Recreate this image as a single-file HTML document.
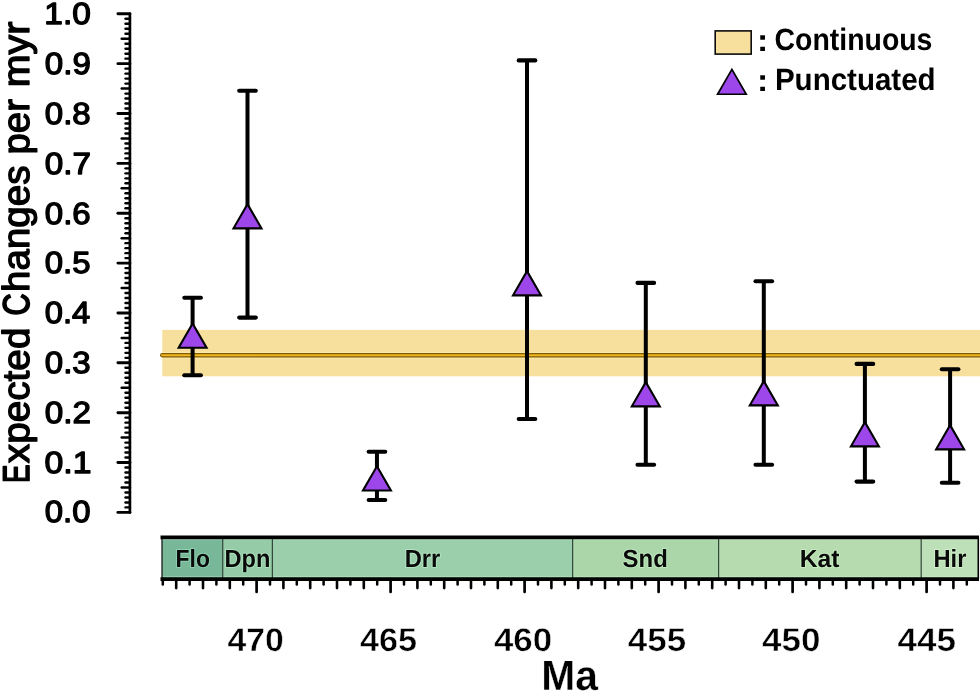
<!DOCTYPE html>
<html lang="en">
<head>
<meta charset="utf-8">
<title>Expected Changes per myr</title>
<style>
html,body{margin:0;padding:0;background:#fff;}
body{width:980px;height:692px;overflow:hidden;font-family:"Liberation Sans", sans-serif;}
svg{display:block;will-change:transform;}
text{text-rendering:geometricPrecision;}
</style>
</head>
<body>
<svg width="980" height="692" viewBox="0 0 980 692">
<rect width="980" height="692" fill="#fff"/>
<rect x="162.3" y="329.9" width="817.7" height="46.4" fill="#f7df9e"/>
<line x1="162" y1="352.35" x2="984" y2="352.35" stroke="#fff3b8" stroke-opacity="0.6" stroke-width="1"/>
<line x1="162" y1="358.15" x2="984" y2="358.15" stroke="#fff3b8" stroke-opacity="0.6" stroke-width="1"/>
<line x1="162.2" y1="355.25" x2="984" y2="355.25" stroke="#7d5c0a" stroke-width="4.3" stroke-linecap="round"/>
<line x1="162.2" y1="355.25" x2="984" y2="355.25" stroke="#f2b51d" stroke-width="2.1" stroke-linecap="round"/>
<g stroke="#000" stroke-linecap="round">
<line x1="129.9" y1="13.8" x2="129.9" y2="512.4" stroke-width="2.7"/>
<line x1="117.9" y1="512.4" x2="129.9" y2="512.4" stroke-width="2.9"/>
<line x1="125.5" y1="507.41" x2="129.9" y2="507.41" stroke-width="2.4"/>
<line x1="125.5" y1="502.43" x2="129.9" y2="502.43" stroke-width="2.4"/>
<line x1="125.5" y1="497.44" x2="129.9" y2="497.44" stroke-width="2.4"/>
<line x1="125.5" y1="492.46" x2="129.9" y2="492.46" stroke-width="2.4"/>
<line x1="121.7" y1="487.47" x2="129.9" y2="487.47" stroke-width="2.5"/>
<line x1="125.5" y1="482.48" x2="129.9" y2="482.48" stroke-width="2.4"/>
<line x1="125.5" y1="477.5" x2="129.9" y2="477.5" stroke-width="2.4"/>
<line x1="125.5" y1="472.51" x2="129.9" y2="472.51" stroke-width="2.4"/>
<line x1="125.5" y1="467.53" x2="129.9" y2="467.53" stroke-width="2.4"/>
<line x1="117.9" y1="462.54" x2="129.9" y2="462.54" stroke-width="2.9"/>
<line x1="125.5" y1="457.55" x2="129.9" y2="457.55" stroke-width="2.4"/>
<line x1="125.5" y1="452.57" x2="129.9" y2="452.57" stroke-width="2.4"/>
<line x1="125.5" y1="447.58" x2="129.9" y2="447.58" stroke-width="2.4"/>
<line x1="125.5" y1="442.6" x2="129.9" y2="442.6" stroke-width="2.4"/>
<line x1="121.7" y1="437.61" x2="129.9" y2="437.61" stroke-width="2.5"/>
<line x1="125.5" y1="432.62" x2="129.9" y2="432.62" stroke-width="2.4"/>
<line x1="125.5" y1="427.64" x2="129.9" y2="427.64" stroke-width="2.4"/>
<line x1="125.5" y1="422.65" x2="129.9" y2="422.65" stroke-width="2.4"/>
<line x1="125.5" y1="417.67" x2="129.9" y2="417.67" stroke-width="2.4"/>
<line x1="117.9" y1="412.68" x2="129.9" y2="412.68" stroke-width="2.9"/>
<line x1="125.5" y1="407.69" x2="129.9" y2="407.69" stroke-width="2.4"/>
<line x1="125.5" y1="402.71" x2="129.9" y2="402.71" stroke-width="2.4"/>
<line x1="125.5" y1="397.72" x2="129.9" y2="397.72" stroke-width="2.4"/>
<line x1="125.5" y1="392.74" x2="129.9" y2="392.74" stroke-width="2.4"/>
<line x1="121.7" y1="387.75" x2="129.9" y2="387.75" stroke-width="2.5"/>
<line x1="125.5" y1="382.76" x2="129.9" y2="382.76" stroke-width="2.4"/>
<line x1="125.5" y1="377.78" x2="129.9" y2="377.78" stroke-width="2.4"/>
<line x1="125.5" y1="372.79" x2="129.9" y2="372.79" stroke-width="2.4"/>
<line x1="125.5" y1="367.81" x2="129.9" y2="367.81" stroke-width="2.4"/>
<line x1="117.9" y1="362.82" x2="129.9" y2="362.82" stroke-width="2.9"/>
<line x1="125.5" y1="357.83" x2="129.9" y2="357.83" stroke-width="2.4"/>
<line x1="125.5" y1="352.85" x2="129.9" y2="352.85" stroke-width="2.4"/>
<line x1="125.5" y1="347.86" x2="129.9" y2="347.86" stroke-width="2.4"/>
<line x1="125.5" y1="342.88" x2="129.9" y2="342.88" stroke-width="2.4"/>
<line x1="121.7" y1="337.89" x2="129.9" y2="337.89" stroke-width="2.5"/>
<line x1="125.5" y1="332.9" x2="129.9" y2="332.9" stroke-width="2.4"/>
<line x1="125.5" y1="327.92" x2="129.9" y2="327.92" stroke-width="2.4"/>
<line x1="125.5" y1="322.93" x2="129.9" y2="322.93" stroke-width="2.4"/>
<line x1="125.5" y1="317.95" x2="129.9" y2="317.95" stroke-width="2.4"/>
<line x1="117.9" y1="312.96" x2="129.9" y2="312.96" stroke-width="2.9"/>
<line x1="125.5" y1="307.97" x2="129.9" y2="307.97" stroke-width="2.4"/>
<line x1="125.5" y1="302.99" x2="129.9" y2="302.99" stroke-width="2.4"/>
<line x1="125.5" y1="298" x2="129.9" y2="298" stroke-width="2.4"/>
<line x1="125.5" y1="293.02" x2="129.9" y2="293.02" stroke-width="2.4"/>
<line x1="121.7" y1="288.03" x2="129.9" y2="288.03" stroke-width="2.5"/>
<line x1="125.5" y1="283.04" x2="129.9" y2="283.04" stroke-width="2.4"/>
<line x1="125.5" y1="278.06" x2="129.9" y2="278.06" stroke-width="2.4"/>
<line x1="125.5" y1="273.07" x2="129.9" y2="273.07" stroke-width="2.4"/>
<line x1="125.5" y1="268.09" x2="129.9" y2="268.09" stroke-width="2.4"/>
<line x1="117.9" y1="263.1" x2="129.9" y2="263.1" stroke-width="2.9"/>
<line x1="125.5" y1="258.11" x2="129.9" y2="258.11" stroke-width="2.4"/>
<line x1="125.5" y1="253.13" x2="129.9" y2="253.13" stroke-width="2.4"/>
<line x1="125.5" y1="248.14" x2="129.9" y2="248.14" stroke-width="2.4"/>
<line x1="125.5" y1="243.16" x2="129.9" y2="243.16" stroke-width="2.4"/>
<line x1="121.7" y1="238.17" x2="129.9" y2="238.17" stroke-width="2.5"/>
<line x1="125.5" y1="233.18" x2="129.9" y2="233.18" stroke-width="2.4"/>
<line x1="125.5" y1="228.2" x2="129.9" y2="228.2" stroke-width="2.4"/>
<line x1="125.5" y1="223.21" x2="129.9" y2="223.21" stroke-width="2.4"/>
<line x1="125.5" y1="218.23" x2="129.9" y2="218.23" stroke-width="2.4"/>
<line x1="117.9" y1="213.24" x2="129.9" y2="213.24" stroke-width="2.9"/>
<line x1="125.5" y1="208.25" x2="129.9" y2="208.25" stroke-width="2.4"/>
<line x1="125.5" y1="203.27" x2="129.9" y2="203.27" stroke-width="2.4"/>
<line x1="125.5" y1="198.28" x2="129.9" y2="198.28" stroke-width="2.4"/>
<line x1="125.5" y1="193.3" x2="129.9" y2="193.3" stroke-width="2.4"/>
<line x1="121.7" y1="188.31" x2="129.9" y2="188.31" stroke-width="2.5"/>
<line x1="125.5" y1="183.32" x2="129.9" y2="183.32" stroke-width="2.4"/>
<line x1="125.5" y1="178.34" x2="129.9" y2="178.34" stroke-width="2.4"/>
<line x1="125.5" y1="173.35" x2="129.9" y2="173.35" stroke-width="2.4"/>
<line x1="125.5" y1="168.37" x2="129.9" y2="168.37" stroke-width="2.4"/>
<line x1="117.9" y1="163.38" x2="129.9" y2="163.38" stroke-width="2.9"/>
<line x1="125.5" y1="158.39" x2="129.9" y2="158.39" stroke-width="2.4"/>
<line x1="125.5" y1="153.41" x2="129.9" y2="153.41" stroke-width="2.4"/>
<line x1="125.5" y1="148.42" x2="129.9" y2="148.42" stroke-width="2.4"/>
<line x1="125.5" y1="143.44" x2="129.9" y2="143.44" stroke-width="2.4"/>
<line x1="121.7" y1="138.45" x2="129.9" y2="138.45" stroke-width="2.5"/>
<line x1="125.5" y1="133.46" x2="129.9" y2="133.46" stroke-width="2.4"/>
<line x1="125.5" y1="128.48" x2="129.9" y2="128.48" stroke-width="2.4"/>
<line x1="125.5" y1="123.49" x2="129.9" y2="123.49" stroke-width="2.4"/>
<line x1="125.5" y1="118.51" x2="129.9" y2="118.51" stroke-width="2.4"/>
<line x1="117.9" y1="113.52" x2="129.9" y2="113.52" stroke-width="2.9"/>
<line x1="125.5" y1="108.53" x2="129.9" y2="108.53" stroke-width="2.4"/>
<line x1="125.5" y1="103.55" x2="129.9" y2="103.55" stroke-width="2.4"/>
<line x1="125.5" y1="98.56" x2="129.9" y2="98.56" stroke-width="2.4"/>
<line x1="125.5" y1="93.58" x2="129.9" y2="93.58" stroke-width="2.4"/>
<line x1="121.7" y1="88.59" x2="129.9" y2="88.59" stroke-width="2.5"/>
<line x1="125.5" y1="83.6" x2="129.9" y2="83.6" stroke-width="2.4"/>
<line x1="125.5" y1="78.62" x2="129.9" y2="78.62" stroke-width="2.4"/>
<line x1="125.5" y1="73.63" x2="129.9" y2="73.63" stroke-width="2.4"/>
<line x1="125.5" y1="68.65" x2="129.9" y2="68.65" stroke-width="2.4"/>
<line x1="117.9" y1="63.66" x2="129.9" y2="63.66" stroke-width="2.9"/>
<line x1="125.5" y1="58.67" x2="129.9" y2="58.67" stroke-width="2.4"/>
<line x1="125.5" y1="53.69" x2="129.9" y2="53.69" stroke-width="2.4"/>
<line x1="125.5" y1="48.7" x2="129.9" y2="48.7" stroke-width="2.4"/>
<line x1="125.5" y1="43.72" x2="129.9" y2="43.72" stroke-width="2.4"/>
<line x1="121.7" y1="38.73" x2="129.9" y2="38.73" stroke-width="2.5"/>
<line x1="125.5" y1="33.74" x2="129.9" y2="33.74" stroke-width="2.4"/>
<line x1="125.5" y1="28.76" x2="129.9" y2="28.76" stroke-width="2.4"/>
<line x1="125.5" y1="23.77" x2="129.9" y2="23.77" stroke-width="2.4"/>
<line x1="125.5" y1="18.79" x2="129.9" y2="18.79" stroke-width="2.4"/>
<line x1="117.9" y1="13.8" x2="129.9" y2="13.8" stroke-width="2.9"/>
</g>
<text transform="translate(44.78,522.35) scale(1.0775,1)" font-family='"Liberation Sans", sans-serif' font-weight="normal" font-size="30.55" fill="#000" stroke="#000" stroke-width="1.3" stroke-linejoin="round">0.0</text>
<text transform="translate(44.57,472.56) scale(1.1050,1)" font-family='"Liberation Sans", sans-serif' font-weight="normal" font-size="30.55" fill="#000" stroke="#000" stroke-width="1.3" stroke-linejoin="round">0.1</text>
<text transform="translate(44.78,422.77) scale(1.0876,1)" font-family='"Liberation Sans", sans-serif' font-weight="normal" font-size="30.55" fill="#000" stroke="#000" stroke-width="1.3" stroke-linejoin="round">0.2</text>
<text transform="translate(44.78,372.98) scale(1.0815,1)" font-family='"Liberation Sans", sans-serif' font-weight="normal" font-size="30.55" fill="#000" stroke="#000" stroke-width="1.3" stroke-linejoin="round">0.3</text>
<text transform="translate(44.79,323.19) scale(1.0696,1)" font-family='"Liberation Sans", sans-serif' font-weight="normal" font-size="30.55" fill="#000" stroke="#000" stroke-width="1.3" stroke-linejoin="round">0.4</text>
<text transform="translate(44.78,273.4) scale(1.0795,1)" font-family='"Liberation Sans", sans-serif' font-weight="normal" font-size="30.55" fill="#000" stroke="#000" stroke-width="1.3" stroke-linejoin="round">0.5</text>
<text transform="translate(44.78,223.61) scale(1.0815,1)" font-family='"Liberation Sans", sans-serif' font-weight="normal" font-size="30.55" fill="#000" stroke="#000" stroke-width="1.3" stroke-linejoin="round">0.6</text>
<text transform="translate(44.78,173.82) scale(1.0876,1)" font-family='"Liberation Sans", sans-serif' font-weight="normal" font-size="30.55" fill="#000" stroke="#000" stroke-width="1.3" stroke-linejoin="round">0.7</text>
<text transform="translate(44.78,124.03) scale(1.0815,1)" font-family='"Liberation Sans", sans-serif' font-weight="normal" font-size="30.55" fill="#000" stroke="#000" stroke-width="1.3" stroke-linejoin="round">0.8</text>
<text transform="translate(44.78,74.24) scale(1.0835,1)" font-family='"Liberation Sans", sans-serif' font-weight="normal" font-size="30.55" fill="#000" stroke="#000" stroke-width="1.3" stroke-linejoin="round">0.9</text>
<text transform="translate(44.31,24.45) scale(1.0937,1)" font-family='"Liberation Sans", sans-serif' font-weight="normal" font-size="30.55" fill="#000" stroke="#000" stroke-width="1.3" stroke-linejoin="round">1.0</text>
<text transform="translate(29.15,483.05) rotate(-90) scale(0.7443,1)" font-family='"Liberation Sans", sans-serif' font-weight="normal" font-size="37.24" fill="#000" stroke="#000" stroke-width="1.7" stroke-linejoin="round">E</text>
<text transform="translate(29.32,463.19) rotate(-90) scale(1.0258,1)" font-family='"Liberation Sans", sans-serif' font-weight="normal" font-size="37.75" fill="#000" stroke="#000" stroke-width="1.35" stroke-linejoin="round">xpected</text>
<text transform="translate(29.15,315.53) rotate(-90) scale(0.8237,1)" font-family='"Liberation Sans", sans-serif' font-weight="normal" font-size="37.24" fill="#000" stroke="#000" stroke-width="1.7" stroke-linejoin="round">C</text>
<text transform="translate(29.32,291.91) rotate(-90) scale(1.0203,1)" font-family='"Liberation Sans", sans-serif' font-weight="normal" font-size="37.75" fill="#000" stroke="#000" stroke-width="1.35" stroke-linejoin="round">hanges</text>
<text transform="translate(29.32,154.4) rotate(-90) scale(1.0128,1)" font-family='"Liberation Sans", sans-serif' font-weight="normal" font-size="37.75" fill="#000" stroke="#000" stroke-width="1.35" stroke-linejoin="round">per</text>
<text transform="translate(29.32,87.36) rotate(-90) scale(1.0445,1)" font-family='"Liberation Sans", sans-serif' font-weight="normal" font-size="37.75" fill="#000" stroke="#000" stroke-width="1.35" stroke-linejoin="round">myr</text>
<g stroke="#000" stroke-width="4" stroke-linecap="round">
<line x1="192.6" y1="297.8" x2="192.6" y2="375.3" stroke-linecap="butt"/>
<line x1="184.3" y1="297.8" x2="200.9" y2="297.8" stroke-width="4.1"/>
<line x1="184.3" y1="375.3" x2="200.9" y2="375.3" stroke-width="4.1"/>
<line x1="247.5" y1="90.8" x2="247.5" y2="317.6" stroke-linecap="butt"/>
<line x1="239.2" y1="90.8" x2="255.8" y2="90.8" stroke-width="4.1"/>
<line x1="239.2" y1="317.6" x2="255.8" y2="317.6" stroke-width="4.1"/>
<line x1="376.95" y1="451.8" x2="376.95" y2="500" stroke-linecap="butt"/>
<line x1="368.65" y1="451.8" x2="385.25" y2="451.8" stroke-width="4.1"/>
<line x1="368.65" y1="500" x2="385.25" y2="500" stroke-width="4.1"/>
<line x1="527" y1="60.4" x2="527" y2="419" stroke-linecap="butt"/>
<line x1="518.7" y1="60.4" x2="535.3" y2="60.4" stroke-width="4.1"/>
<line x1="518.7" y1="419" x2="535.3" y2="419" stroke-width="4.1"/>
<line x1="645.8" y1="282.9" x2="645.8" y2="464.8" stroke-linecap="butt"/>
<line x1="637.5" y1="282.9" x2="654.1" y2="282.9" stroke-width="4.1"/>
<line x1="637.5" y1="464.8" x2="654.1" y2="464.8" stroke-width="4.1"/>
<line x1="763.8" y1="281.3" x2="763.8" y2="464.8" stroke-linecap="butt"/>
<line x1="755.5" y1="281.3" x2="772.1" y2="281.3" stroke-width="4.1"/>
<line x1="755.5" y1="464.8" x2="772.1" y2="464.8" stroke-width="4.1"/>
<line x1="864.9" y1="363.9" x2="864.9" y2="481.6" stroke-linecap="butt"/>
<line x1="856.6" y1="363.9" x2="873.2" y2="363.9" stroke-width="4.1"/>
<line x1="856.6" y1="481.6" x2="873.2" y2="481.6" stroke-width="4.1"/>
<line x1="950.1" y1="369.3" x2="950.1" y2="482.8" stroke-linecap="butt"/>
<line x1="941.8" y1="369.3" x2="958.4" y2="369.3" stroke-width="4.1"/>
<line x1="941.8" y1="482.8" x2="958.4" y2="482.8" stroke-width="4.1"/>
</g>
<polygon points="192.6,323.53 206.58,347.75 178.62,347.75" fill="#9d46ea" stroke="#000" stroke-width="2.1" stroke-linejoin="miter" stroke-miterlimit="10"/>
<polygon points="247.5,204.13 261.48,228.35 233.52,228.35" fill="#9d46ea" stroke="#000" stroke-width="2.1" stroke-linejoin="miter" stroke-miterlimit="10"/>
<polygon points="376.95,466.23 390.93,490.45 362.97,490.45" fill="#9d46ea" stroke="#000" stroke-width="2.1" stroke-linejoin="miter" stroke-miterlimit="10"/>
<polygon points="527,271.13 540.98,295.35 513.02,295.35" fill="#9d46ea" stroke="#000" stroke-width="2.1" stroke-linejoin="miter" stroke-miterlimit="10"/>
<polygon points="645.8,382.13 659.78,406.35 631.82,406.35" fill="#9d46ea" stroke="#000" stroke-width="2.1" stroke-linejoin="miter" stroke-miterlimit="10"/>
<polygon points="763.8,381.13 777.78,405.35 749.82,405.35" fill="#9d46ea" stroke="#000" stroke-width="2.1" stroke-linejoin="miter" stroke-miterlimit="10"/>
<polygon points="864.9,422.13 878.88,446.35 850.92,446.35" fill="#9d46ea" stroke="#000" stroke-width="2.1" stroke-linejoin="miter" stroke-miterlimit="10"/>
<polygon points="950.1,425.13 964.08,449.35 936.12,449.35" fill="#9d46ea" stroke="#000" stroke-width="2.1" stroke-linejoin="miter" stroke-miterlimit="10"/>
<rect x="715.2" y="30.9" width="36" height="23.2" fill="#f7df9e" stroke="#0c0c0c" stroke-width="1.6"/>
<polygon points="731.9,69.43 746.23,94.25 717.57,94.25" fill="#9d46ea" stroke="#000" stroke-width="1.7" stroke-linejoin="miter" stroke-miterlimit="10"/>
<text transform="translate(757.1,50.7) scale(1.0872,1)" font-family='"Liberation Sans", sans-serif' font-weight="bold" font-size="30.98" fill="#000">:</text>
<text transform="translate(774.56,50.2) scale(0.9177,1)" font-family='"Liberation Sans", sans-serif' font-weight="bold" font-size="30.98" fill="#000">Continuous</text>
<text transform="translate(757.1,90.8) scale(1.0872,1)" font-family='"Liberation Sans", sans-serif' font-weight="bold" font-size="30.98" fill="#000">:</text>
<text transform="translate(774.91,90.1) scale(0.9533,1)" font-family='"Liberation Sans", sans-serif' font-weight="bold" font-size="30.98" fill="#000">Punctuated</text>
<rect x="162" y="537.3" width="60.7" height="41.9" fill="#78b899"/>
<rect x="222.7" y="537.3" width="49.7" height="41.9" fill="#95cba6"/>
<rect x="272.4" y="537.3" width="300.2" height="41.9" fill="#9bcfac"/>
<rect x="572.6" y="537.3" width="146" height="41.9" fill="#aad6a9"/>
<rect x="718.6" y="537.3" width="202.6" height="41.9" fill="#b6dbaf"/>
<rect x="921.2" y="537.3" width="57.1" height="41.9" fill="#bee0b8"/>
<line x1="162" y1="539.6" x2="978.3" y2="539.6" stroke="#d8f8e0" stroke-opacity="0.55" stroke-width="1"/>
<line x1="162" y1="576.9" x2="978.3" y2="576.9" stroke="#d8f8e0" stroke-opacity="0.45" stroke-width="1"/>
<line x1="222.7" y1="537.3" x2="222.7" y2="579.2" stroke="#36493f" stroke-width="1.25"/>
<line x1="272.4" y1="537.3" x2="272.4" y2="579.2" stroke="#36493f" stroke-width="1.25"/>
<line x1="572.6" y1="537.3" x2="572.6" y2="579.2" stroke="#36493f" stroke-width="1.25"/>
<line x1="718.6" y1="537.3" x2="718.6" y2="579.2" stroke="#36493f" stroke-width="1.25"/>
<line x1="921.2" y1="537.3" x2="921.2" y2="579.2" stroke="#36493f" stroke-width="1.25"/>
<g stroke="#000">
<line x1="162" y1="537.3" x2="162" y2="579.2" stroke="#1a1a1a" stroke-width="1.3"/>
<line x1="978.3" y1="537.3" x2="978.3" y2="579.2" stroke-width="1.6"/>
<line x1="160.5" y1="537.3" x2="979" y2="537.3" stroke-width="3.8"/>
<line x1="160.5" y1="579.2" x2="979" y2="579.2" stroke-width="3.8"/>
<line x1="162.8" y1="579.2" x2="162.8" y2="584.5" stroke-width="2.5" stroke-linecap="round"/>
<line x1="176.2" y1="579.2" x2="176.2" y2="588.1" stroke-width="2.6" stroke-linecap="round"/>
<line x1="189.6" y1="579.2" x2="189.6" y2="584.5" stroke-width="2.5" stroke-linecap="round"/>
<line x1="203" y1="579.2" x2="203" y2="588.1" stroke-width="2.6" stroke-linecap="round"/>
<line x1="216.4" y1="579.2" x2="216.4" y2="584.5" stroke-width="2.5" stroke-linecap="round"/>
<line x1="229.8" y1="579.2" x2="229.8" y2="588.1" stroke-width="2.6" stroke-linecap="round"/>
<line x1="243.2" y1="579.2" x2="243.2" y2="584.5" stroke-width="2.5" stroke-linecap="round"/>
<line x1="256.6" y1="579.2" x2="256.6" y2="592.0" stroke-width="2.7" stroke-linecap="round"/>
<line x1="270" y1="579.2" x2="270" y2="584.5" stroke-width="2.5" stroke-linecap="round"/>
<line x1="283.4" y1="579.2" x2="283.4" y2="588.1" stroke-width="2.6" stroke-linecap="round"/>
<line x1="296.8" y1="579.2" x2="296.8" y2="584.5" stroke-width="2.5" stroke-linecap="round"/>
<line x1="310.2" y1="579.2" x2="310.2" y2="588.1" stroke-width="2.6" stroke-linecap="round"/>
<line x1="323.6" y1="579.2" x2="323.6" y2="584.5" stroke-width="2.5" stroke-linecap="round"/>
<line x1="337" y1="579.2" x2="337" y2="588.1" stroke-width="2.6" stroke-linecap="round"/>
<line x1="350.4" y1="579.2" x2="350.4" y2="584.5" stroke-width="2.5" stroke-linecap="round"/>
<line x1="363.8" y1="579.2" x2="363.8" y2="588.1" stroke-width="2.6" stroke-linecap="round"/>
<line x1="377.2" y1="579.2" x2="377.2" y2="584.5" stroke-width="2.5" stroke-linecap="round"/>
<line x1="390.6" y1="579.2" x2="390.6" y2="592.0" stroke-width="2.7" stroke-linecap="round"/>
<line x1="404" y1="579.2" x2="404" y2="584.5" stroke-width="2.5" stroke-linecap="round"/>
<line x1="417.4" y1="579.2" x2="417.4" y2="588.1" stroke-width="2.6" stroke-linecap="round"/>
<line x1="430.8" y1="579.2" x2="430.8" y2="584.5" stroke-width="2.5" stroke-linecap="round"/>
<line x1="444.2" y1="579.2" x2="444.2" y2="588.1" stroke-width="2.6" stroke-linecap="round"/>
<line x1="457.6" y1="579.2" x2="457.6" y2="584.5" stroke-width="2.5" stroke-linecap="round"/>
<line x1="471" y1="579.2" x2="471" y2="588.1" stroke-width="2.6" stroke-linecap="round"/>
<line x1="484.4" y1="579.2" x2="484.4" y2="584.5" stroke-width="2.5" stroke-linecap="round"/>
<line x1="497.8" y1="579.2" x2="497.8" y2="588.1" stroke-width="2.6" stroke-linecap="round"/>
<line x1="511.2" y1="579.2" x2="511.2" y2="584.5" stroke-width="2.5" stroke-linecap="round"/>
<line x1="524.6" y1="579.2" x2="524.6" y2="592.0" stroke-width="2.7" stroke-linecap="round"/>
<line x1="538" y1="579.2" x2="538" y2="584.5" stroke-width="2.5" stroke-linecap="round"/>
<line x1="551.4" y1="579.2" x2="551.4" y2="588.1" stroke-width="2.6" stroke-linecap="round"/>
<line x1="564.8" y1="579.2" x2="564.8" y2="584.5" stroke-width="2.5" stroke-linecap="round"/>
<line x1="578.2" y1="579.2" x2="578.2" y2="588.1" stroke-width="2.6" stroke-linecap="round"/>
<line x1="591.6" y1="579.2" x2="591.6" y2="584.5" stroke-width="2.5" stroke-linecap="round"/>
<line x1="605" y1="579.2" x2="605" y2="588.1" stroke-width="2.6" stroke-linecap="round"/>
<line x1="618.4" y1="579.2" x2="618.4" y2="584.5" stroke-width="2.5" stroke-linecap="round"/>
<line x1="631.8" y1="579.2" x2="631.8" y2="588.1" stroke-width="2.6" stroke-linecap="round"/>
<line x1="645.2" y1="579.2" x2="645.2" y2="584.5" stroke-width="2.5" stroke-linecap="round"/>
<line x1="658.6" y1="579.2" x2="658.6" y2="592.0" stroke-width="2.7" stroke-linecap="round"/>
<line x1="672" y1="579.2" x2="672" y2="584.5" stroke-width="2.5" stroke-linecap="round"/>
<line x1="685.4" y1="579.2" x2="685.4" y2="588.1" stroke-width="2.6" stroke-linecap="round"/>
<line x1="698.8" y1="579.2" x2="698.8" y2="584.5" stroke-width="2.5" stroke-linecap="round"/>
<line x1="712.2" y1="579.2" x2="712.2" y2="588.1" stroke-width="2.6" stroke-linecap="round"/>
<line x1="725.6" y1="579.2" x2="725.6" y2="584.5" stroke-width="2.5" stroke-linecap="round"/>
<line x1="739" y1="579.2" x2="739" y2="588.1" stroke-width="2.6" stroke-linecap="round"/>
<line x1="752.4" y1="579.2" x2="752.4" y2="584.5" stroke-width="2.5" stroke-linecap="round"/>
<line x1="765.8" y1="579.2" x2="765.8" y2="588.1" stroke-width="2.6" stroke-linecap="round"/>
<line x1="779.2" y1="579.2" x2="779.2" y2="584.5" stroke-width="2.5" stroke-linecap="round"/>
<line x1="792.6" y1="579.2" x2="792.6" y2="592.0" stroke-width="2.7" stroke-linecap="round"/>
<line x1="806" y1="579.2" x2="806" y2="584.5" stroke-width="2.5" stroke-linecap="round"/>
<line x1="819.4" y1="579.2" x2="819.4" y2="588.1" stroke-width="2.6" stroke-linecap="round"/>
<line x1="832.8" y1="579.2" x2="832.8" y2="584.5" stroke-width="2.5" stroke-linecap="round"/>
<line x1="846.2" y1="579.2" x2="846.2" y2="588.1" stroke-width="2.6" stroke-linecap="round"/>
<line x1="859.6" y1="579.2" x2="859.6" y2="584.5" stroke-width="2.5" stroke-linecap="round"/>
<line x1="873" y1="579.2" x2="873" y2="588.1" stroke-width="2.6" stroke-linecap="round"/>
<line x1="886.4" y1="579.2" x2="886.4" y2="584.5" stroke-width="2.5" stroke-linecap="round"/>
<line x1="899.8" y1="579.2" x2="899.8" y2="588.1" stroke-width="2.6" stroke-linecap="round"/>
<line x1="913.2" y1="579.2" x2="913.2" y2="584.5" stroke-width="2.5" stroke-linecap="round"/>
<line x1="926.6" y1="579.2" x2="926.6" y2="592.0" stroke-width="2.7" stroke-linecap="round"/>
<line x1="940" y1="579.2" x2="940" y2="584.5" stroke-width="2.5" stroke-linecap="round"/>
<line x1="953.4" y1="579.2" x2="953.4" y2="588.1" stroke-width="2.6" stroke-linecap="round"/>
<line x1="966.8" y1="579.2" x2="966.8" y2="584.5" stroke-width="2.5" stroke-linecap="round"/>
</g>
<text transform="translate(175.55,566.7) scale(0.9210,1)" font-family='"Liberation Sans", sans-serif' font-weight="bold" font-size="24.87" fill="none" stroke="#96dcba" stroke-width="2" stroke-opacity="0.7" stroke-linejoin="round">Flo</text>
<text transform="translate(175.55,566.7) scale(0.9210,1)" font-family='"Liberation Sans", sans-serif' font-weight="bold" font-size="24.87" fill="#0a0a0a">Flo</text>
<text transform="translate(224.5,566.7) scale(0.9503,1)" font-family='"Liberation Sans", sans-serif' font-weight="bold" font-size="24.87" fill="none" stroke="#b4e8c4" stroke-width="2" stroke-opacity="0.7" stroke-linejoin="round">Dpn</text>
<text transform="translate(224.5,566.7) scale(0.9503,1)" font-family='"Liberation Sans", sans-serif' font-weight="bold" font-size="24.87" fill="#0a0a0a">Dpn</text>
<text transform="translate(404.7,566.7) scale(0.9542,1)" font-family='"Liberation Sans", sans-serif' font-weight="bold" font-size="24.87" fill="none" stroke="#b9ecca" stroke-width="2" stroke-opacity="0.7" stroke-linejoin="round">Drr</text>
<text transform="translate(404.7,566.7) scale(0.9542,1)" font-family='"Liberation Sans", sans-serif' font-weight="bold" font-size="24.87" fill="#0a0a0a">Drr</text>
<text transform="translate(622.58,566.7) scale(0.9622,1)" font-family='"Liberation Sans", sans-serif' font-weight="bold" font-size="24.87" fill="none" stroke="#c6f0c6" stroke-width="2" stroke-opacity="0.7" stroke-linejoin="round">Snd</text>
<text transform="translate(622.58,566.7) scale(0.9622,1)" font-family='"Liberation Sans", sans-serif' font-weight="bold" font-size="24.87" fill="#0a0a0a">Snd</text>
<text transform="translate(799.73,566.7) scale(0.9933,1)" font-family='"Liberation Sans", sans-serif' font-weight="bold" font-size="24.87" fill="none" stroke="#d0f3ca" stroke-width="2" stroke-opacity="0.7" stroke-linejoin="round">Kat</text>
<text transform="translate(799.73,566.7) scale(0.9933,1)" font-family='"Liberation Sans", sans-serif' font-weight="bold" font-size="24.87" fill="#0a0a0a">Kat</text>
<text transform="translate(933.5,566.7) scale(0.9532,1)" font-family='"Liberation Sans", sans-serif' font-weight="bold" font-size="24.87" fill="none" stroke="#d7f5d2" stroke-width="2" stroke-opacity="0.7" stroke-linejoin="round">Hir</text>
<text transform="translate(933.5,566.7) scale(0.9532,1)" font-family='"Liberation Sans", sans-serif' font-weight="bold" font-size="24.87" fill="#0a0a0a">Hir</text>
<text transform="translate(227.43,650.65) scale(1.0330,1)" font-family='"Liberation Sans", sans-serif' font-weight="bold" font-size="32.73" fill="#000" stroke="#fff" stroke-width="0.5" stroke-linejoin="miter">470</text>
<text transform="translate(360.03,650.65) scale(1.0459,1)" font-family='"Liberation Sans", sans-serif' font-weight="bold" font-size="32.73" fill="#000" stroke="#fff" stroke-width="0.5" stroke-linejoin="miter">465</text>
<text transform="translate(493.91,650.65) scale(1.0656,1)" font-family='"Liberation Sans", sans-serif' font-weight="bold" font-size="32.73" fill="#000" stroke="#fff" stroke-width="0.5" stroke-linejoin="miter">460</text>
<text transform="translate(627.81,650.65) scale(1.0687,1)" font-family='"Liberation Sans", sans-serif' font-weight="bold" font-size="32.73" fill="#000" stroke="#fff" stroke-width="0.5" stroke-linejoin="miter">455</text>
<text transform="translate(762.11,650.65) scale(1.0684,1)" font-family='"Liberation Sans", sans-serif' font-weight="bold" font-size="32.73" fill="#000" stroke="#fff" stroke-width="0.5" stroke-linejoin="miter">450</text>
<text transform="translate(897.51,650.65) scale(1.0725,1)" font-family='"Liberation Sans", sans-serif' font-weight="bold" font-size="32.73" fill="#000" stroke="#fff" stroke-width="0.5" stroke-linejoin="miter">445</text>
<text transform="translate(541.31,689.65) scale(0.9626,1)" font-family='"Liberation Sans", sans-serif' font-weight="bold" font-size="42.33" fill="#000" stroke="#fff" stroke-width="0.3" stroke-linejoin="miter">Ma</text>
</svg>
</body>
</html>
